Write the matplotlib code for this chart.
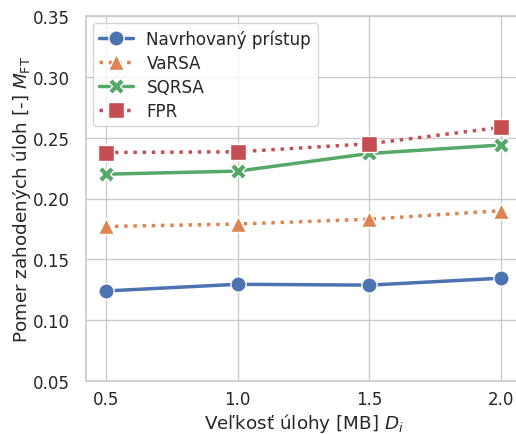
import numpy as np
import matplotlib
matplotlib.use("Agg")
import matplotlib.pyplot as plt
import seaborn as sns

# data
sizes = [0.5, 1.0, 1.5, 2.0]
navrh = [0.124, 0.1295, 0.1288, 0.1345]
varsa = [0.177, 0.179, 0.183, 0.190]
sqrsa = [0.220, 0.2225, 0.237, 0.244]
fpr = [0.2378, 0.2384, 0.2450, 0.2585]
yticks = [0.05, 0.10, 0.15, 0.20, 0.25, 0.30, 0.35]

sns.set_theme(style="whitegrid", font_scale=1.1)
pal = sns.color_palette("deep")

fig = plt.figure(figsize=(5.16, 4.35), dpi=100)
ax = fig.add_axes([86 / 516, 53 / 435, 435 / 516, 365 / 435])

kw = dict(lw=2.5, ms=11, mec="white", mew=1)
ax.plot(sizes, navrh, "-", marker="o", color=pal[0], label="Navrhovaný prístup", **kw)
ax.plot(sizes, varsa, ":", marker="^", color=pal[1], label="VaRSA", **kw)
ax.plot(sizes, sqrsa, "-", marker="X", color=pal[2], label="SQRSA", **kw)
ax.plot(sizes, fpr, ":", marker="s", color=pal[3], label="FPR", **kw)

ax.set_xlim(0.425, 2.075)
ax.set_ylim(0.05, 0.35)
ax.set_xticks(sizes)
ax.set_yticks(yticks)
ax.set_yticklabels([f"{t:.2f}" for t in yticks])
ax.tick_params(axis="both", length=0)
ax.tick_params(axis="x", pad=6.5)
ax.tick_params(axis="y", pad=11.5)
ax.set_xlabel("Veľkosť úlohy [MB] $D_i$", labelpad=2)
ax.set_ylabel("Pomer zahodených úloh [-] $M_{\\rm FT}$", labelpad=0)
ax.legend(loc="upper left", handlelength=2.0, labelspacing=0.35, borderaxespad=0.4)

plt.savefig("out.png", dpi=100)
